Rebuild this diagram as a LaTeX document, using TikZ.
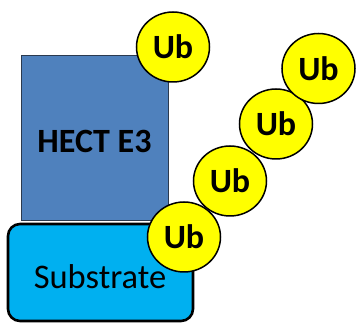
\documentclass[tikz,border=0pt]{standalone}
\usepackage{fontspec}
\setmainfont{Carlito}
\usetikzlibrary{shapes.geometric}
\definecolor{hectblue}{HTML}{4F81BD}
\definecolor{hectedge}{HTML}{2B3A4F}
\definecolor{subblue}{HTML}{00B0F0}
\definecolor{ubyellow}{HTML}{FFFF00}
\tikzset{
  px/.style={x=1pt,y=-1pt},
  ubball/.style={ellipse, draw=black, line width=1.5pt, fill=ubyellow,
    minimum width=73pt, minimum height=70pt, inner sep=0pt,
    font=\fontsize{34}{34}\selectfont\bfseries},
  hectbox/.style={draw=hectedge, line width=1pt, fill=hectblue},
  subbox/.style={draw=black, line width=2.6pt, fill=subblue, rounded corners=12pt}
}
\begin{document}
\begin{tikzpicture}[px]
  \useasboundingbox (0,0) rectangle (357,323);
  % HECT E3 ligase
  \draw[hectbox] (21,56) rectangle (168,221);
  \node (hect) at (94.5,141) {\fontsize{34}{34}\selectfont\bfseries HECT E3};
  % substrate
  \draw[subbox] (8,224) rectangle (193,321);
  \node (substrate) at (100,277) {\fontsize{34.5}{34.5}\selectfont Substrate};
  % ubiquitin on the ligase
  \node[ubball] (ub1) at (173,47) {Ub};
  % polyubiquitin chain on the substrate
  \node[ubball] (ub5) at (184,237) {Ub};
  \node[ubball] (ub4) at (230,181) {Ub};
  \node[ubball] (ub3) at (276,124) {Ub};
  \node[ubball] (ub2) at (318.5,68.5) {Ub};
\end{tikzpicture}
\end{document}
